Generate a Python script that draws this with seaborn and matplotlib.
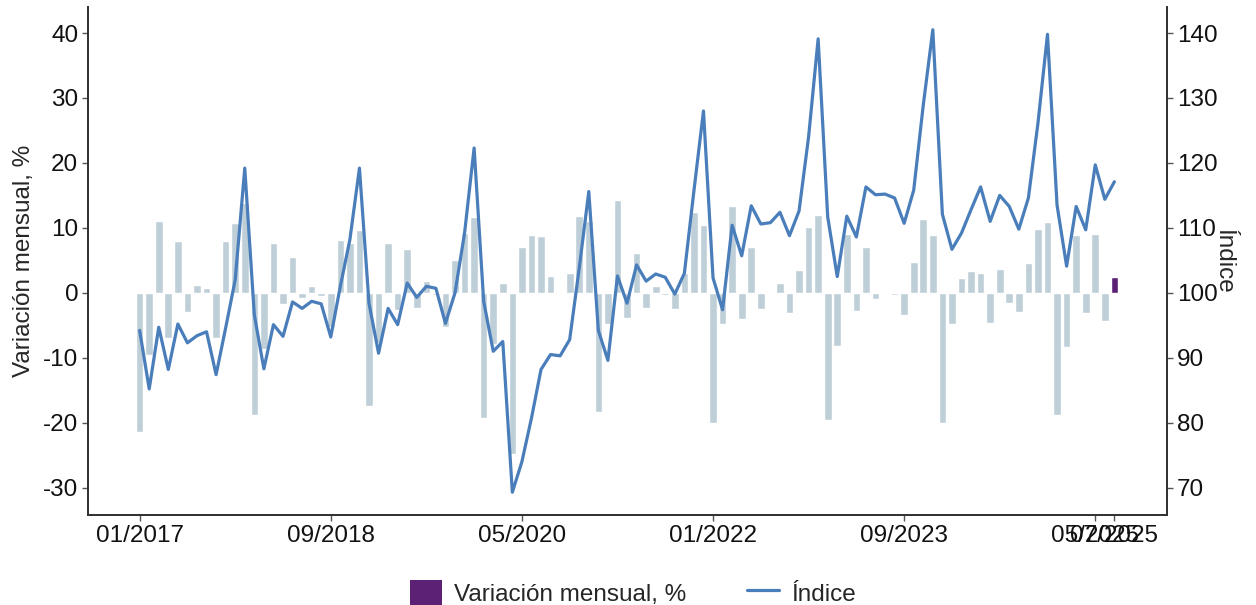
import numpy as np
import pandas as pd
import seaborn as sns
import matplotlib.pyplot as plt
from matplotlib.patches import Patch
from matplotlib.lines import Line2D

# Monthly data 01/2017 - 07/2025
variacion = [
    -21.5, -9.5, 11.1, -6.9, 8.0, -3.0, 1.2, 0.7, -7.0, 8.0, 10.8, 13.8,
    -18.8, -8.6, 7.6, -1.7, 5.5, -0.8, 1.1, -0.5, -5.2, 8.2, 7.6, 9.7,
    -17.5, -7.8, 7.6, -2.7, 6.8, -2.4, 1.8, -0.3, -5.3, 5.0, 9.2, 11.6,
    -19.3, -7.9, 1.5, -24.8, 7.0, 8.9, 8.8, 2.6, -0.2, 3.0, 11.9, 11.1,
    -18.4, -4.8, 14.3, -3.9, 6.1, -2.4, 1.0, -0.4, -2.5, 3.1, 12.5, 10.4,
    -20.0, -4.8, 13.3, -4.0, 7.1, -2.5, 0.1, 1.5, -3.1, 3.5, 10.2, 12.0,
    -19.6, -8.2, 9.0, -2.8, 7.0, -0.9, 0.0, -0.4, -3.4, 4.7, 11.3, 8.9,
    -20.0, -4.8, 2.3, 3.3, 3.1, -4.6, 3.6, -1.5, -3.0, 4.6, 9.9, 10.9,
    -18.8, -8.3, 8.9, -3.1, 9.1, -4.3, 2.5,
]
indice = [
    94.2, 85.2, 94.7, 88.2, 95.2, 92.3, 93.4, 94.0, 87.4, 94.6, 102.0, 119.2,
    96.6, 88.3, 95.1, 93.3, 98.6, 97.6, 98.7, 98.3, 93.2, 101.0, 108.2, 119.2,
    98.4, 90.7, 97.6, 95.1, 101.5, 99.3, 101.0, 100.7, 95.3, 100.0, 109.2, 122.3,
    98.7, 91.0, 92.5, 69.3, 74.0, 80.7, 88.2, 90.5, 90.3, 92.8, 103.8, 115.6,
    94.2, 89.6, 102.6, 98.4, 104.3, 101.8, 102.9, 102.4, 99.8, 103.0, 115.7, 128.0,
    102.3, 97.4, 110.4, 105.7, 113.4, 110.6, 110.8, 112.4, 108.8, 112.6, 124.0, 139.1,
    111.7, 102.5, 111.8, 108.6, 116.3, 115.1, 115.2, 114.6, 110.7, 115.8, 128.9, 140.5,
    112.1, 106.7, 109.2, 112.8, 116.3, 111.0, 115.0, 113.3, 109.8, 114.6, 126.1, 139.8,
    113.5, 104.1, 113.3, 109.7, 119.7, 114.4, 117.1,
]
fechas = pd.date_range("2017-01-01", periods=len(variacion), freq="MS").strftime("%m/%Y")
tick_labels = ["01/2017", "09/2018", "05/2020", "01/2022", "09/2023", "05/2025", "07/2025"]

df = pd.DataFrame({"fecha": fechas, "variacion": variacion, "indice": indice})
df["pos"] = np.arange(len(df))
df["grupo"] = "hist"
df.loc[df.index[-1], "grupo"] = "ultimo"

sns.set_theme(style="white")
plt.rcParams["font.family"] = ["Liberation Sans", "DejaVu Sans"]
plt.rcParams["axes.unicode_minus"] = False

bar_col = "#bfcfd8"
last_col = "#5c2075"
line_col = "#4a7ebb"
fs = 17.5

fig = plt.figure(figsize=(12.56, 6.05), dpi=100)
ax = fig.add_axes([0.0701, 0.1488, 0.8590, 0.8396])

sns.barplot(data=df, x="pos", y="variacion", hue="grupo",
            palette={"hist": bar_col, "ultimo": last_col},
            dodge=False, width=0.8, legend=False, ax=ax, saturation=1)

ax2 = ax.twinx()
sns.lineplot(data=df, x="pos", y="indice", color=line_col, linewidth=2.3, ax=ax2)

ax.set_xlim(-5.4, 107.5)
ax.set_ylim(-34.2, 44.0)
ax2.set_ylim(65.8, 144.0)

tick_pos = [list(fechas).index(t) for t in tick_labels]
ax.set_xticks(tick_pos)
ax.set_xticklabels(tick_labels)
ax.set_yticks([-30, -20, -10, 0, 10, 20, 30, 40])
ax.set_yticklabels(["-30", "-20", "-10", "0", "10", "20", "30", "40"])
ax2.set_yticks([70, 80, 90, 100, 110, 120, 130, 140])

ax.set_xlabel("")
ax.set_ylabel("Variación mensual, %", fontsize=fs, labelpad=6)
ax2.set_ylabel("Índice", fontsize=fs, rotation=270, labelpad=12)

for a in (ax, ax2):
    a.tick_params(axis="both", labelsize=fs, length=4, width=1, color="#555555",
                  labelcolor="#111111", pad=3)
    for side in ["left", "right", "bottom"]:
        a.spines[side].set_visible(True)
        a.spines[side].set_color("#333333")
        a.spines[side].set_linewidth(1.3)
    a.spines["top"].set_visible(False)
ax.tick_params(axis="x", bottom=True)
ax.tick_params(axis="y", left=True)
ax2.tick_params(axis="y", right=True)

handles = [Patch(facecolor=last_col, edgecolor="none"),
           Line2D([0], [0], color=line_col, linewidth=2.3)]
fig.legend(handles, ["Variación mensual, %", "Índice"], loc="center",
           bbox_to_anchor=(0.504, 0.02), ncol=2, frameon=False, fontsize=fs,
           handlelength=1.3, handleheight=1.2, handletextpad=0.5, columnspacing=2.5)

fig.savefig("out.png", dpi=100)
